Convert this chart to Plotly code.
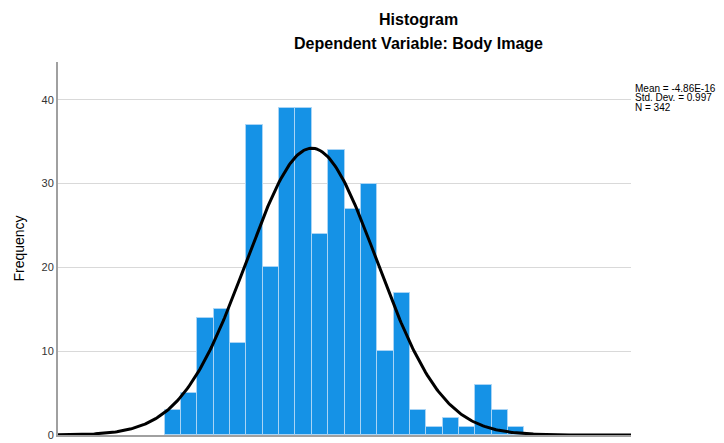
import numpy as np
import plotly.graph_objects as go

# Histogram data (regression standardized residual bins, width 0.25)
bin_width = 0.25
bin_starts = [-2.25, -2.0, -1.75, -1.5, -1.25, -1.0, -0.75, -0.5, -0.25, 0.0, 0.25,
              0.5, 0.75, 1.0, 1.25, 1.5, 1.75, 2.0, 2.25, 2.5, 2.75, 3.0]
counts = [3, 5, 14, 15, 11, 37, 20, 39, 39, 24, 34, 27, 30, 10, 17, 3, 1, 2, 1, 6, 3, 1]

mean_val = -4.86e-16
std_val = 0.997
n_val = 342

x_ticks = [-2, 0, 2, 4]
y_ticks = [0, 10, 20, 30, 40]
x_range = [-3.88, 4.88]
y_range = [0, 44.5]

centers = [s + bin_width / 2 for s in bin_starts]

xc = np.linspace(x_range[0], x_range[1], 400)
yc = n_val * bin_width / (std_val * np.sqrt(2 * np.pi)) * np.exp(-0.5 * ((xc - mean_val) / std_val) ** 2)

FONT = "Liberation Sans, Arial, sans-serif"

fig = go.Figure()
fig.add_trace(go.Bar(
    x=centers, y=counts, width=bin_width,
    marker=dict(color="#1592E6", line=dict(color="#A9D4F5", width=1)),
    hoverinfo="x+y", showlegend=False,
))
fig.add_trace(go.Scatter(
    x=xc, y=yc, mode="lines", line=dict(color="black", width=3),
    showlegend=False, cliponaxis=False,
))

fig.update_layout(
    width=724, height=443,
    margin=dict(l=58, r=93, t=62, b=8),
    paper_bgcolor="white", plot_bgcolor="white",
    font=dict(family=FONT, size=11, color="#333333"),
    bargap=0,
)
fig.update_xaxes(
    range=x_range, tickvals=x_ticks, showgrid=False, zeroline=False,
    showline=True, linecolor="#A0A0A0", linewidth=2, ticks="", automargin=False,
    ticklabelstandoff=3,
    tickfont=dict(size=11, color="#333333"),
)
fig.update_yaxes(
    range=y_range, tickvals=y_ticks, showgrid=True, gridcolor="#D9D9D9", gridwidth=1,
    zeroline=False, showline=True, linecolor="#A0A0A0", linewidth=2, ticks="",
    automargin=False, tickfont=dict(size=11, color="#333333"),
    title=dict(text="Frequency", font=dict(size=14, color="#000000"), standoff=14),
)

def px_to_paper_x(px):
    return (px - 58) / 573.0

def px_to_paper_y(py):
    return (435 - py) / 373.0

fig.add_annotation(text="<b>Histogram</b>", xref="paper", yref="paper",
                   x=px_to_paper_x(418), y=px_to_paper_y(19.5), showarrow=False,
                   xanchor="center", yanchor="middle",
                   font=dict(family=FONT, size=16, color="#000000"))
fig.add_annotation(text="<b>Dependent Variable: Body Image</b>", xref="paper", yref="paper",
                   x=px_to_paper_x(418), y=px_to_paper_y(44), showarrow=False,
                   xanchor="center", yanchor="middle",
                   font=dict(family=FONT, size=16, color="#000000"))

stats_lines = ["Mean = -4.86E-16", "Std. Dev. = 0.997", "N = 342"]
for i, t in enumerate(stats_lines):
    fig.add_annotation(text=t, xref="paper", yref="paper",
                       x=px_to_paper_x(633), y=px_to_paper_y(88 + 10 * i),
                       showarrow=False, xanchor="left", yanchor="middle",
                       font=dict(family=FONT, size=10, color="#000000"))

fig.write_html("out.html", config={"displayModeBar": False},
               post_script="document.body.style.margin='0';")
